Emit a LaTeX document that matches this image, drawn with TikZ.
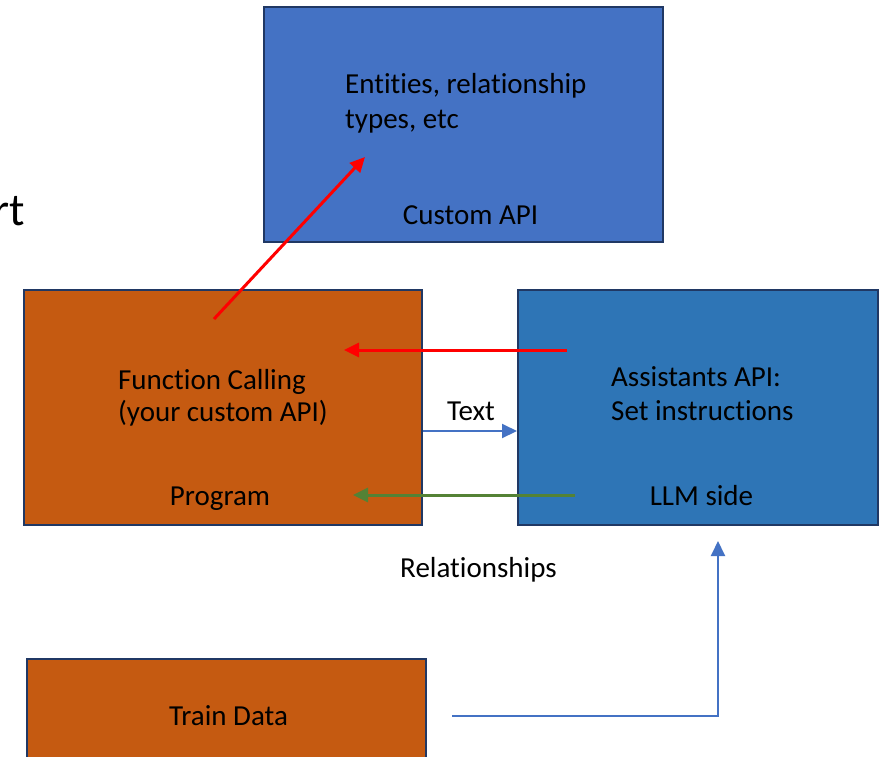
\documentclass[tikz,border=0pt]{standalone}
\usepackage{fontspec}
\setmainfont[Ligatures=NoCommon]{Carlito}
\usetikzlibrary{arrows.meta}
\definecolor{apiblue}{HTML}{4472C4}
\definecolor{llmblue}{HTML}{2E75B6}
\definecolor{progorange}{HTML}{C55A11}
\definecolor{edge}{HTML}{203864}
\definecolor{arrowgreen}{HTML}{548235}
\definecolor{arrowblue}{HTML}{4472C4}
\tikzset{
  box/.style={draw=edge, line width=2pt, inner sep=0pt},
  lbl/.style={inner sep=0pt, anchor=base, font=\fontsize{29}{35}\selectfont, text=black},
  lblw/.style={lbl, anchor=base west},
  tip/.style={-{Triangle[length=15pt,width=14pt]}},
}
\begin{document}
\begin{tikzpicture}[x=1pt,y=-1pt]
\useasboundingbox (0,0) rectangle (884,756);
\clip (0,0) rectangle (884,756);
\fill[white] (0,0) rectangle (884,756);
% boxes
\node[box, fill=apiblue, minimum width=399pt, minimum height=235pt] (api) at (463.5,124.5) {};
\node[box, fill=progorange, minimum width=398pt, minimum height=235pt] (prog) at (223,407.5) {};
\node[box, fill=llmblue, minimum width=360pt, minimum height=235pt] (llm) at (698,407.5) {};
\node[box, fill=progorange, minimum width=399pt, minimum height=140pt] (train) at (226.5,729) {};
% texts
\node[lblw] (ent) at (345,93) {Entities, relationship};
\node[lblw] (typ) at (345,128) {types, etc};
\node[lbl] (capi) at (470.5,224) {Custom API};
\node[lbl] (fc1) at (212,389) {Function Calling};
\node[lbl] (fc2) at (223,421) {(your custom API)};
\node[lbl] (progl) at (220,505) {Program};
\node[lblw] (as1) at (611,386) {Assistants API:};
\node[lblw] (as2) at (611,420) {Set instructions};
\node[lbl] (llml) at (701.5,505) {LLM side};
\node[lbl] (txt) at (471,420) {Text};
\node[lbl] (rel) at (478.5,577) {Relationships};
\node[lbl] (trl) at (228.5,725) {Train Data};
\node[inner sep=0pt, anchor=base east, font=\fontsize{46}{50}\selectfont] (rt) at (25,225) {rt};
% connector ends
\coordinate (r1a) at (214,319);
\coordinate (r1b) at (365,157);
\coordinate (r2a) at (567,350);
\coordinate (r2b) at (344,350);
\coordinate (ga) at (575,495);
\coordinate (gb) at (353,495);
\coordinate (ta) at (452,716);
\coordinate (tb) at (718,716);
\coordinate (tc) at (718,541);
% arrows
\draw[tip, red, line width=3pt] (r1a) -- (r1b);
\draw[tip, red, line width=3pt] (r2a) -- (r2b);
\draw[tip, arrowblue, line width=2pt] (prog.east |- 0,431) -- (llm.west |- 0,431);
\draw[tip, arrowgreen, line width=3pt] (ga) -- (gb);
\draw[tip, arrowblue, line width=2pt] (ta) -- (tb) -- (tc);
\end{tikzpicture}
\end{document}
